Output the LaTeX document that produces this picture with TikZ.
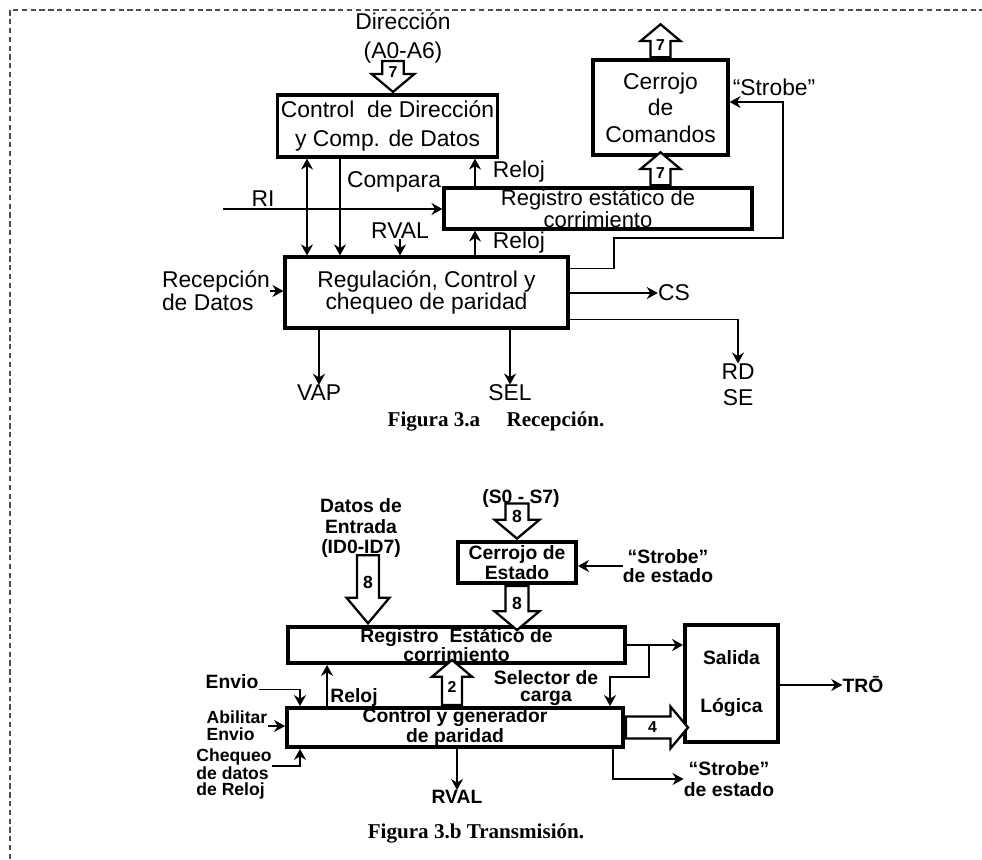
\documentclass[tikz,border=0pt]{standalone}
\usepackage{fontspec}
\setmainfont{Liberation Sans}
\newfontfamily\capfont{Liberation Serif}
\usetikzlibrary{positioning,arrows.meta,shapes.arrows,calc}
\tikzset{
  tx/.style={font=\fontsize{13}{15}\selectfont},
  txb/.style={font=\fontsize{11}{11}\selectfont\bfseries},
  blqbox/.style={draw, line width=1.8pt, align=center, inner xsep=2pt, inner ysep=0pt},
  blqarr/.style={-{Stealth[length=2.2mm,width=2.4mm]}, line width=1pt},
  blqdarr/.style={blqarr, {Stealth[length=2.2mm,width=2.4mm]}-{Stealth[length=2.2mm,width=2.4mm]}},
  blqlbl/.style={inner sep=0pt, align=center},
  blqbus/.style={single arrow, draw, line width=1.3pt, fill=white, inner sep=2.5pt,
    single arrow head extend=0.2cm, single arrow tip angle=100,
    font=\fontsize{9}{9}\selectfont\bfseries},
  blqcap/.style={font=\fontsize{12}{14}\capfont\bfseries},
  blqframe/.style={densely dashed, line width=0.6pt, draw=black!70},
}

\begin{document}
\begin{tikzpicture}[x=0.02cm, y=-0.02cm]
  \useasboundingbox (0,0) rectangle (982,859);
  % Marco
  \draw[blqframe] (10,859) -- (10,10) -- (982,10);

  % Figura 3.a: bloques
  \node[blqbox, tx, font=\fontsize{13}{16}\selectfont, minimum width=4.38cm, minimum height=1.24cm] (ctrl) at (387.5,126) {Control \ de Dirección\\y Comp. de Datos};
  \node[blqbox, tx, minimum width=2.7cm, minimum height=1.9cm] (cerrojo) at (660.5,107.5) {Cerrojo\\de\\Comandos};
  \node[blqbox, tx, font=\fontsize{12.5}{11}\selectfont, minimum width=6.16cm, minimum height=0.82cm] (registro) at (598,208.5) {Registro estático de\\corrimiento};
  \node[blqbox, tx, font=\fontsize{13}{13}\selectfont, minimum width=5.66cm, minimum height=1.42cm] (regul) at (426.5,292.5) {Regulación, Control y\\chequeo de paridad};

  % Figura 3.a: etiquetas
  \node[blqlbl, tx, font=\fontsize{13}{17}\selectfont] (dir) at (403,38) {Dirección\\(A0-A6)};
  \node[blqlbl, tx] (lcomp) at (394,182) {Compara};
  \node[blqlbl, tx] (lri) at (263,199) {RI};
  \node[blqlbl, tx] (rval) at (400,231) {RVAL};
  \node[blqlbl, tx] (lreloj1) at (519,172) {Reloj};
  \node[blqlbl, tx] (lreloj2) at (519,243) {Reloj};
  \node[blqlbl, tx, align=left, font=\fontsize{13}{13}\selectfont] (recep) at (216,291) {Recepción\\de Datos};
  \node[blqlbl, tx] (cs) at (674,293) {CS};
  \node[blqlbl, tx, font=\fontsize{13}{15}\selectfont] (rdse) at (738,385) {RD\\SE};
  \node[blqlbl, tx] (vap) at (319,393) {VAP};
  \node[blqlbl, tx] (sel) at (510,393) {SEL};
  \node[blqlbl, tx] (lstb) at (774,87) {“Strobe”};
  \node[blqcap] (capa) at (496,421) {Figura 3.a\quad\ Recepción.};

  % Figura 3.a: buses
  \node[blqbus, shape border rotate=270, anchor=tip, minimum height=0.6cm, minimum width=0.86cm] (b7a) at ([xshift=0.11cm]ctrl.north) {7};
  \node[blqbus, shape border rotate=90, anchor=tail, minimum height=0.66cm, minimum width=0.8cm] (b7b) at (cerrojo.north) {7};
  \node[blqbus, shape border rotate=90, anchor=tail, minimum height=0.66cm, minimum width=0.8cm] (b7c) at (cerrojo.south |- registro.north) {7};

  % Figura 3.a: conexiones
  \coordinate (c307) at (307,0);
  \coordinate (c340) at (340,0);
  \coordinate (c475) at (475,0);
  \coordinate (ri) at (223,209);
  \coordinate (stbA) at (614,238);
  \coordinate (stbB) at (783,102);
  \draw[blqdarr] (c307 |- ctrl.south) -- (c307 |- regul.north);
  \draw[blqarr] (c340 |- ctrl.south) -- (c340 |- regul.north);
  \draw[blqarr] (ri) -- (ri -| registro.west);
  \draw[blqarr] (rval.south) -- (rval.south |- regul.north);
  \draw[blqarr] (c475 |- registro.north) -- (c475 |- ctrl.south);
  \draw[blqarr] (c475 |- regul.north) -- (c475 |- registro.south);
  \draw[blqarr] (recep.east) -- (recep.east -| regul.west);
  \draw[blqarr] (regul.east |- cs) -- (cs.west);
  \draw[blqarr] ([yshift=0.2cm]regul.south east) -| (rdse.north);
  \draw[blqarr] (vap |- regul.south) -- (vap.north);
  \draw[blqarr] (sel |- regul.south) -- (sel.north);
  \draw[blqarr] ([yshift=-0.26cm]regul.north east) -| (stbA) -| (stbB) -- (stbB -| cerrojo.east);

  % Figura 3.b: bloques
  \node[blqbox, txb, line width=2.2pt, font=\fontsize{11}{9}\selectfont\bfseries, minimum width=6.74cm, minimum height=0.72cm] (regB) at (456.5,645) {Registro \ Estático de\\corrimiento};
  \node[blqbox, txb, line width=2.2pt, minimum width=6.72cm, minimum height=0.78cm] (genB) at (455,727.5) {Control y generador\\de paridad};
  \node[blqbox, txb, line width=2.2pt, font=\fontsize{11}{9.5}\selectfont\bfseries, minimum width=2.36cm, minimum height=0.82cm] (estB) at (517,562.5) {Cerrojo de\\Estado};
  \node[blqbox, txb, line width=2.2pt, minimum width=1.86cm, minimum height=2.34cm] (salida) at (731.5,683.5) {Salida\\[16pt]Lógica};

  % Figura 3.b: etiquetas
  \node[blqlbl, txb, font=\fontsize{11}{11.6}\selectfont\bfseries] (datos) at (361,528) {Datos de\\Entrada\\(ID0-ID7)};
  \node[blqlbl, txb] (sdat) at (521,498) {(S0 - S7)};
  \node[blqlbl, txb, font=\fontsize{11}{10.5}\selectfont\bfseries] (stbin) at (668,566) {“Strobe”\\de estado};
  \node[blqlbl, txb] (env) at (232,682) {Envio};
  \node[blqlbl, txb, align=left, font=\fontsize{10}{9.5}\selectfont\bfseries] (abil) at (237,726) {Abilitar\\Envio};
  \node[blqlbl, txb, align=left, font=\fontsize{10}{9}\selectfont\bfseries] (cheq) at (234,774) {Chequeo\\de datos\\de Reloj};
  \node[blqlbl, txb] (lreloj3) at (354,697) {Reloj};
  \node[blqlbl, txb, font=\fontsize{11}{9.5}\selectfont\bfseries] (selc) at (546,688) {Selector de\\carga};
  \node[blqlbl, txb] (tro) at (863,685) {TRŌ};
  \node[blqlbl, txb, font=\fontsize{11}{12}\selectfont\bfseries] (stbout) at (729,779) {“Strobe”\\de estado};
  \node[blqlbl, txb] (rvalB) at (457,797) {RVAL};
  \node[blqcap] (capb) at (476,833) {Figura 3.b Transmisión.};

  % Figura 3.b: buses
  \coordinate (c368) at (368,0);
  \coordinate (c452) at (452,0);
  \node[blqbus, shape border rotate=270, anchor=tip, minimum height=1.36cm, minimum width=0.86cm, single arrow tip angle=80, font=\fontsize{10}{10}\selectfont\bfseries] (b8a) at (c368 |- regB.north) {8};
  \node[blqbus, shape border rotate=270, anchor=tip, minimum height=0.7cm, minimum width=0.9cm, font=\fontsize{10}{10}\selectfont\bfseries] (b8b) at (estB.north) {8};
  \node[blqbus, shape border rotate=270, anchor=tail, minimum height=0.88cm, minimum width=0.9cm, font=\fontsize{10}{10}\selectfont\bfseries] (b8c) at (estB.south) {8};
  \node[blqbus, shape border rotate=90, anchor=tail, minimum height=0.9cm, minimum width=0.8cm] (b2) at (c452 |- genB.north) {2};
  \node[blqbus, shape border rotate=0, anchor=tail, minimum height=1.24cm, minimum width=0.78cm] (b4) at (genB.east) {4};

  % Figura 3.b: conexiones
  \coordinate (c300) at (300,0);
  \coordinate (c327) at (327,0);
  \coordinate (c613) at (613,0);
  \coordinate (brA) at ($(regB.east)+(22,0)$);
  \coordinate (brB) at (610,677);
  \draw[blqarr] (stbin.west) -- (stbin.west -| estB.east);
  \draw[blqarr] (env.south east) -| (c300 |- genB.north);
  \draw[blqarr] (abil.east) -- (abil.east -| genB.west);
  \draw[blqarr] ([yshift=0.16cm]cheq.east) -| (c300 |- genB.south);
  \draw[blqarr] (c327 |- genB.north) -- (c327 |- regB.south);
  \draw[blqarr] (regB.east) -- (regB.east -| salida.west);
  \draw[blqarr] (brA) |- (brB) -- (brB |- genB.north);
  \draw[blqarr] (salida.east |- tro) -- (tro.west);
  \draw[blqarr] (c613 |- genB.south) |- (stbout.west);
  \draw[blqarr] (rvalB |- genB.south) -- (rvalB.north);
\end{tikzpicture}
\end{document}
